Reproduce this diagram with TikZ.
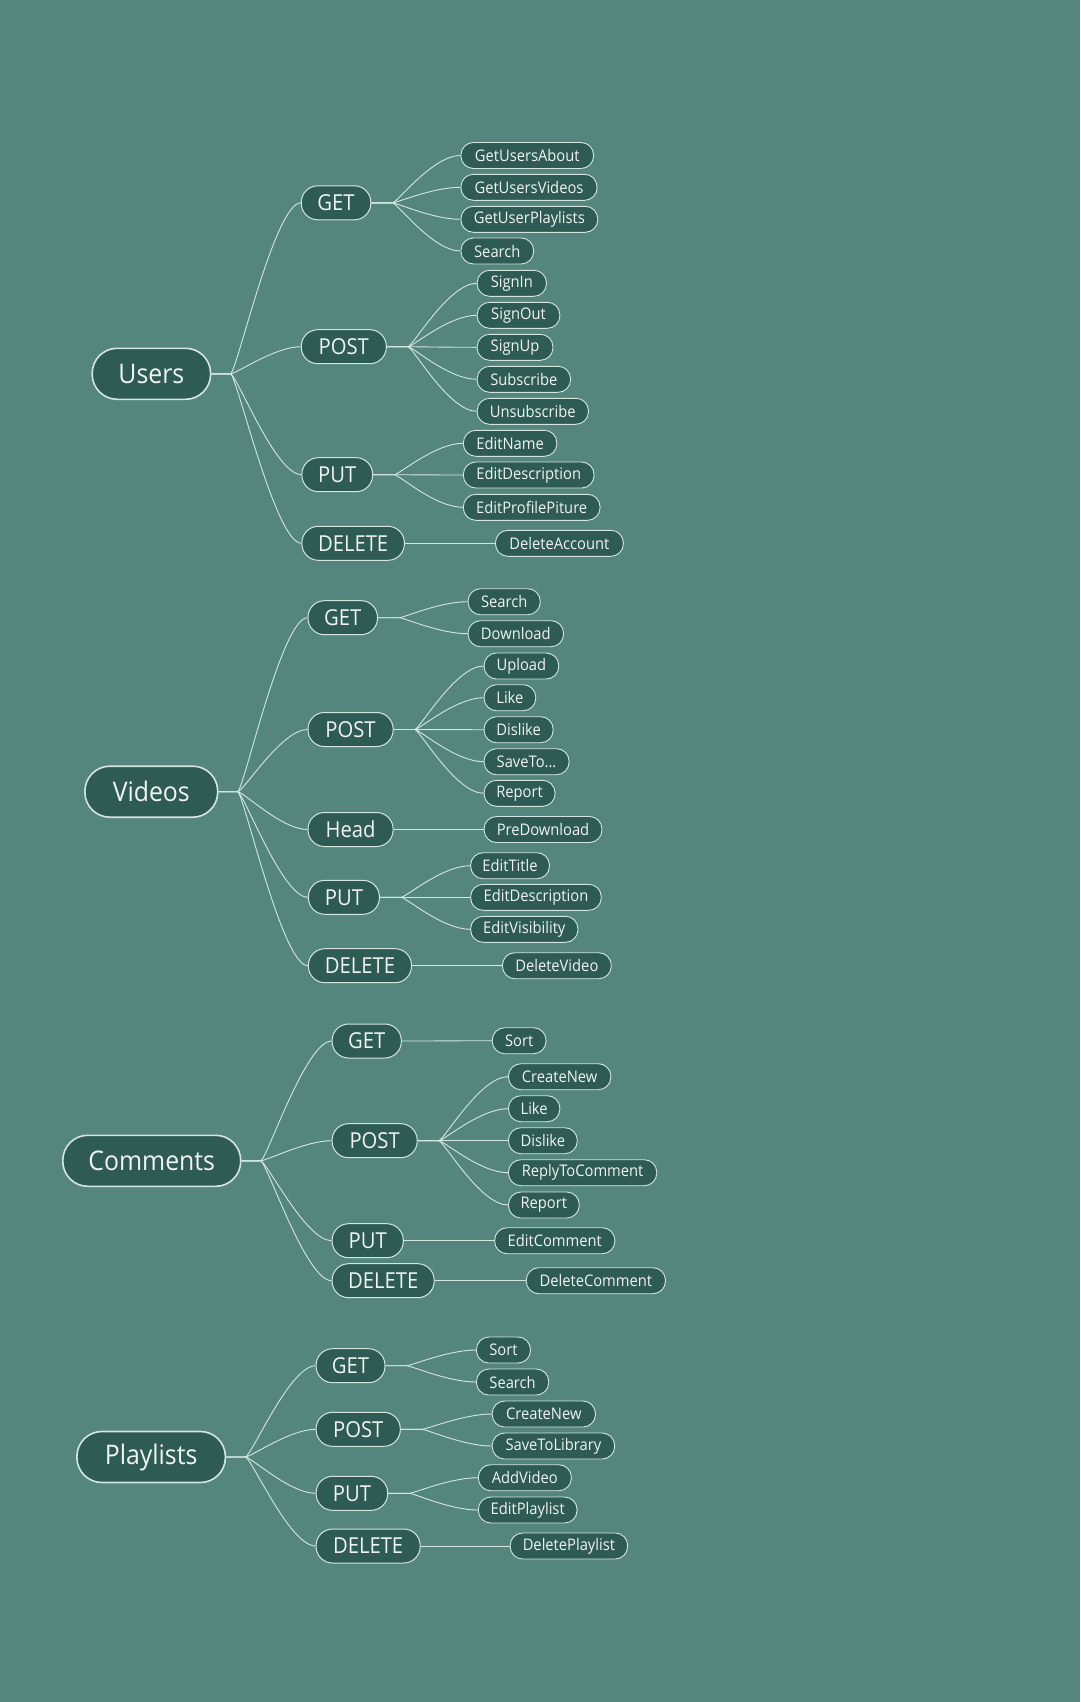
\documentclass[tikz,border=0pt]{standalone}
\usepackage{fontspec}
\setmainfont{Open Sans}[FakeStretch=0.92]
\definecolor{bgc}{HTML}{55867E}
\definecolor{fillc}{HTML}{2E5C54}
\definecolor{edgec}{HTML}{D3E6DF}
\definecolor{txtc}{HTML}{F0F4F2}
\definecolor{linec}{HTML}{D3E6DF}
\pgfdeclarelayer{back}\pgfdeclarelayer{lines}\pgfsetlayers{back,lines,main}
\tikzset{
 base/.style={draw=edgec, fill=fillc, text=txtc, inner sep=0pt, anchor=west, align=center},
 rootnode/.style={base, line width=1.6pt, minimum height=51pt, rounded corners=25pt, font=\fontsize{27}{30}\selectfont},
 methnode/.style={base, line width=1pt, minimum height=34pt, rounded corners=16.5pt, font=\fontsize{22}{24}\selectfont},
 leafnode/.style={base, line width=0.9pt, minimum height=26pt, rounded corners=12.5pt, font=\fontsize{16}{18}\selectfont},
 conn/.style={draw=linec, line width=0.9pt}
}
\newcommand\rbranch[2]{\draw[conn] (#1.east) -- ++(19,0) .. controls +(6,0) and +(-26,0) .. (#2.west);}
\newcommand\mbranch[2]{\draw[conn] (#1.east) -- ++(21,0) .. controls +(5,0) and +(-28,0) .. (#2.west);}
\begin{document}
\begin{tikzpicture}[x=1pt,y=-1pt]
\begin{pgfonlayer}{back}
\fill[bgc] (0,0) rectangle (1080,1702);
\end{pgfonlayer}
\useasboundingbox (0,0) rectangle (1080,1702);

% ---------------- Users ----------------
\node[rootnode, minimum width=118.4pt] (users) at (91.4,373.8) {Users};
\node[methnode, minimum width=69.5pt] (uget) at (300.8,202.8) {GET};
\node[methnode, minimum width=85pt] (upost) at (300.8,346.7) {POST};
\node[methnode, minimum width=70.7pt] (uput) at (301.4,474.7) {PUT};
\node[methnode, minimum width=102.5pt] (udel) at (301.4,543.3) {DELETE};
\node[leafnode, minimum width=132.6pt] (ug1) at (460.5,155.5) {GetUsersAbout};
\node[leafnode, minimum width=136.1pt] (ug2) at (460.5,187.3) {GetUsersVideos};
\node[leafnode, minimum width=136.8pt] (ug3) at (460.5,219.3) {GetUserPlaylists};
\node[leafnode, minimum width=72.7pt] (ug4) at (460.5,251) {Search};
\node[leafnode, minimum width=69.3pt] (up1) at (476.7,283.3) {SignIn};
\node[leafnode, minimum width=82.7pt] (up2) at (476.7,315.3) {SignOut};
\node[leafnode, minimum width=75.8pt] (up3) at (476.7,347.3) {SignUp};
\node[leafnode, minimum width=93.4pt] (up4) at (476.7,379.3) {Subscribe};
\node[leafnode, minimum width=111.3pt] (up5) at (476.7,411.3) {Unsubscribe};
\node[leafnode, minimum width=93.5pt] (uu1) at (462.9,443.3) {EditName};
\node[leafnode, minimum width=130.7pt] (uu2) at (462.9,475) {EditDescription};
\node[leafnode, minimum width=136.7pt] (uu3) at (462.9,507.3) {EditProfilePiture};
\node[leafnode, minimum width=127.9pt] (ud1) at (495,543.3) {DeleteAccount};

% ---------------- Videos ----------------
\node[rootnode, minimum width=132.8pt] (videos) at (84.1,791.7) {Videos};
\node[methnode, minimum width=69.5pt] (vget) at (307.5,617.7) {GET};
\node[methnode, minimum width=85.1pt] (vpost) at (307.5,729.5) {POST};
\node[methnode, minimum width=85.1pt] (vhead) at (307.5,829.5) {Head};
\node[methnode, minimum width=71pt] (vput) at (307.9,897.3) {PUT};
\node[methnode, minimum width=103.1pt] (vdel) at (307.9,965.7) {DELETE};
\node[leafnode, minimum width=72.2pt] (vg1) at (467.6,601.7) {Search};
\node[leafnode, minimum width=95.5pt] (vg2) at (467.6,633.7) {Download};
\node[leafnode, minimum width=74.7pt] (vp1) at (483.6,666) {Upload};
\node[leafnode, minimum width=51.7pt] (vp2) at (483.6,697.7) {Like};
\node[leafnode, minimum width=69.1pt] (vp3) at (483.6,729.7) {Dislike};
\node[leafnode, minimum width=85pt] (vp4) at (483.6,761.7) {SaveTo...};
\node[leafnode, minimum width=71pt] (vp5) at (483.6,793.3) {Report};
\node[leafnode, minimum width=117.9pt] (vh1) at (483.6,829.5) {PreDownload};
\node[leafnode, minimum width=78.8pt] (vu1) at (470.2,865.7) {EditTitle};
\node[leafnode, minimum width=130.6pt] (vu2) at (470.2,897.3) {EditDescription};
\node[leafnode, minimum width=107.3pt] (vu3) at (470.2,929.3) {EditVisibility};
\node[leafnode, minimum width=108.8pt] (vd1) at (502,965.7) {DeleteVideo};

% ---------------- Comments ----------------
\node[rootnode, minimum width=177.9pt] (comments) at (62,1160.8) {Comments};
\node[methnode, minimum width=69.2pt] (cget) at (331.6,1041) {GET};
\node[methnode, minimum width=85.1pt] (cpost) at (331.6,1140.7) {POST};
\node[methnode, minimum width=71.2pt] (cput) at (331.6,1240.7) {PUT};
\node[methnode, minimum width=102.1pt] (cdel) at (331.6,1280.7) {DELETE};
\node[leafnode, minimum width=53.8pt] (cg1) at (491.8,1040.7) {Sort};
\node[leafnode, minimum width=102.4pt] (cp1) at (508,1076.7) {CreateNew};
\node[leafnode, minimum width=51.4pt] (cp2) at (508,1108.7) {Like};
\node[leafnode, minimum width=68.8pt] (cp3) at (508,1140.7) {Dislike};
\node[leafnode, minimum width=148.3pt] (cp4) at (508,1172.7) {ReplyToComment};
\node[leafnode, minimum width=70.8pt] (cp5) at (508,1205) {Report};
\node[leafnode, minimum width=120.2pt] (cu1) at (494.2,1240.7) {EditComment};
\node[leafnode, minimum width=139.2pt] (cd1) at (525.8,1280.7) {DeleteComment};

% ---------------- Playlists ----------------
\node[rootnode, minimum width=148.5pt] (playlists) at (76.1,1457) {Playlists};
\node[methnode, minimum width=68.9pt] (pget) at (315.6,1365.7) {GET};
\node[methnode, minimum width=84.2pt] (ppost) at (315.6,1429.3) {POST};
\node[methnode, minimum width=71.6pt] (pput) at (315.6,1493.3) {PUT};
\node[methnode, minimum width=104.1pt] (pdel) at (315.6,1546) {DELETE};
\node[leafnode, minimum width=54pt] (pg1) at (476,1350) {Sort};
\node[leafnode, minimum width=72.3pt] (pg2) at (476,1382) {Search};
\node[leafnode, minimum width=103.3pt] (pp1) at (491.7,1414) {CreateNew};
\node[leafnode, minimum width=122.5pt] (pp2) at (491.7,1446) {SaveToLibrary};
\node[leafnode, minimum width=93pt] (pu1) at (477.9,1477.7) {AddVideo};
\node[leafnode, minimum width=98.7pt] (pu2) at (477.9,1510) {EditPlaylist};
\node[leafnode, minimum width=117.5pt] (pd1) at (509.7,1546) {DeletePlaylist};

\begin{pgfonlayer}{lines}
\foreach \c in {uget,upost,uput,udel} {\rbranch{users}{\c}}
\foreach \c in {ug1,ug2,ug3,ug4} {\mbranch{uget}{\c}}
\foreach \c in {up1,up2,up3,up4,up5} {\mbranch{upost}{\c}}
\foreach \c in {uu1,uu2,uu3} {\mbranch{uput}{\c}}
\mbranch{udel}{ud1}
\foreach \c in {vget,vpost,vhead,vput,vdel} {\rbranch{videos}{\c}}
\foreach \c in {vg1,vg2} {\mbranch{vget}{\c}}
\foreach \c in {vp1,vp2,vp3,vp4,vp5} {\mbranch{vpost}{\c}}
\mbranch{vhead}{vh1}
\foreach \c in {vu1,vu2,vu3} {\mbranch{vput}{\c}}
\mbranch{vdel}{vd1}
\foreach \c in {cget,cpost,cput,cdel} {\rbranch{comments}{\c}}
\mbranch{cget}{cg1}
\foreach \c in {cp1,cp2,cp3,cp4,cp5} {\mbranch{cpost}{\c}}
\mbranch{cput}{cu1}
\mbranch{cdel}{cd1}
\foreach \c in {pget,ppost,pput,pdel} {\rbranch{playlists}{\c}}
\foreach \c in {pg1,pg2} {\mbranch{pget}{\c}}
\foreach \c in {pp1,pp2} {\mbranch{ppost}{\c}}
\foreach \c in {pu1,pu2} {\mbranch{pput}{\c}}
\mbranch{pdel}{pd1}
\end{pgfonlayer}
\end{tikzpicture}
\end{document}
